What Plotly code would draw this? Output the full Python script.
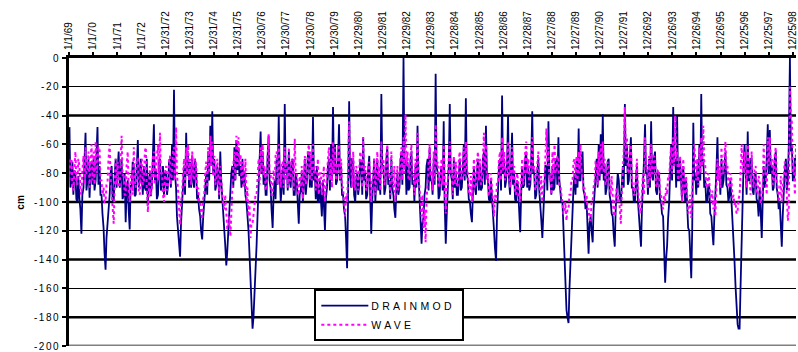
import pandas as pd
import plotly.graph_objects as go

# ---- tick labels on the (top) date axis ----
tick_labels = ["1/1/69", "1/1/70", "1/1/71", "1/1/72", "12/31/72", "12/31/73", "12/31/74",
               "12/31/75", "12/30/76", "12/30/77", "12/30/78", "12/30/79", "12/29/80",
               "12/29/81", "12/29/82", "12/29/83", "12/28/84", "12/28/85", "12/28/86",
               "12/28/87", "12/27/88", "12/27/89", "12/27/90", "12/27/91", "12/26/92",
               "12/26/93", "12/26/94", "12/26/95", "12/25/96", "12/25/97", "12/25/98"]

y_ticks = [0, -20, -40, -60, -80, -100, -120, -140, -160, -180, -200]

# ---- half-monthly water-table depth readings (cm), Jan 1969 .. Feb 1999 ----
drainmod = [
    -48,-90, -85,-72, -95,-78, -80,-98, -100,-82, -98,-105, -122,-95, -90,-75, -52,-92, -85,-70, -97,-80, -72,-88,        # 1969
    -70,-92, -85,-65, -48,-88, -75,-95, -95,-108, -118,-135, -147,-125, -115,-105, -95,-80, -75,-98, -100,-82, -70,-90,  # 1970
    -80,-65, -90,-75, -70,-98, -95,-80, -114,-92, -85,-105, -119,-88, -90,-72, -75,-96, -95,-78, -57,-90, -85,-70,       # 1971
    -85,-95, -75,-90, -92,-70, -102,-85, -80,-96, -88,-65, -46,-85, -78,-98, -95,-72, -70,-92, -88,-75, -96,-80,         # 1972
    -80,-95, -88,-72, -70,-90, -60,-85, -22,-80, -90,-110, -120,-132, -138,-115, -100,-85, -75,-95, -52,-80, -68,-90,    # 1973
    -72,-90, -68,-85, -90,-70, -78,-98, -95,-105, -110,-120, -126,-112, -100,-88, -80,-95, -65,-85, -47,-75, -37,-80,    # 1974
    -70,-92, -88,-75, -80,-98, -65,-85, -100,-110, -120,-130, -144,-135, -118,-105, -95,-80, -75,-90, -62,-85, -57,-78,  # 1975
    -62,-82, -75,-90, -70,-88, -80,-95, -100,-108, -120,-135, -150,-170, -188,-180, -165,-150, -130,-110, -88,-70, -51,-80,  # 1976
    -65,-88, -80,-95, -95,-70, -54,-85, -90,-105, -118,-95, -85,-98, -70,-88, -40,-80, -100,-90, -75,-95, -32,-80,       # 1977
    -75,-92, -65,-85, -90,-72, -70,-95, -95,-80, -85,-100, -115,-95, -92,-80, -100,-88, -70,-95, -85,-68, -65,-90,       # 1978
    -70,-90, -41,-85, -80,-98, -75,-100, -100,-85, -95,-110, -85,-105, -120,-98, -90,-75, -70,-92, -60,-85, -34,-80,     # 1979
    -60,-88, -85,-70, -46,-85, -75,-95, -95,-105, -110,-125, -146,-100, -30,-80, -90,-70, -70,-95, -100,-85, -80,-95,    # 1980
    -88,-72, -72,-95, -55,-85, -80,-98, -95,-78, -68,-95, -122,-100, -85,-70, -100,-88, -70,-92, -80,-95, -25,-75,       # 1981
    -75,-95, -90,-70, -62,-88, -85,-98, -70,-90, -95,-105, -111,-92, -80,-95, -90,-72, -65,-88, 0,-75, -70,-95,          # 1982
    -72,-92, -90,-70, -65,-88, -85,-100, -75,-90, -47,-80, -95,-110, -129,-115, -110,-95, -90,-75, -70,-92, -62,-85,     # 1983
    -85,-95, -70,-88, -11,-75, -80,-98, -95,-80, -75,-92, -44,-100, -129,-110, -90,-75, -32,-80, -85,-98, -70,-90,       # 1984
    -80,-95, -95,-75, -70,-92, -90,-78, -60,-85, -28,-80, -85,-98, -100,-108, -114,-95, -75,-90, -95,-80, -70,-92,       # 1985
    -75,-92, -90,-70, -65,-88, -47,-80, -85,-98, -100,-85, -95,-110, -120,-132, -141,-110, -90,-75, -70,-92, -26,-80,    # 1986
    -70,-90, -85,-72, -40,-85, -95,-80, -52,-88, -80,-98, -100,-85, -90,-105, -121,-95, -75,-90, -88,-70, -65,-90,       # 1987
    -75,-92, -88,-70, -37,-80, -80,-98, -95,-80, -70,-92, -100,-112, -125,-100, -90,-75, -75,-92, -44,-80, -85,-95,      # 1988
    -75,-92, -90,-70, -70,-88, -55,-85, -95,-100, -100,-120, -138,-160, -175,-180, -184,-160, -140,-120, -100,-90, -80,-95,  # 1989
    -70,-90, -49,-85, -85,-70, -65,-92, -95,-105, -100,-120, -136,-115, -110,-120, -128,-105, -90,-78, -70,-90, -60,-85, # 1990
    -53,-80, -39,-85, -75,-95, -90,-72, -70,-95, -100,-108, -110,-122, -131,-105, -95,-80, -85,-98, -100,-85, -75,-90,   # 1991
    -32,-75, -60,-88, -85,-70, -55,-90, -90,-100, -100,-85, -75,-98, -110,-122, -131,-105, -90,-72, -46,-80, -80,-95,    # 1992
    -70,-90, -44,-82, -85,-70, -65,-92, -95,-80, -80,-98, -100,-108, -110,-135, -156,-140, -130,-112, -100,-80, -60,-85, # 1993
    -34,-75, -70,-90, -40,-85, -85,-70, -95,-100, -75,-92, -100,-85, -110,-118, -120,-140, -153,-120, -45,-85, -80,-95,  # 1994
    -75,-90, -60,-85, -25,-75, -70,-90, -85,-100, -100,-88, -90,-108, -110,-120, -130,-110, -95,-80, -55,-85, -80,-95,   # 1995
    -70,-90, -85,-72, -65,-88, -90,-100, -95,-85, -100,-110, -120,-140, -159,-172, -185,-188, -188,-160, -120,-95, -72,-60,  # 1996
    -80,-95, -51,-85, -85,-70, -70,-92, -95,-82, -80,-98, -100,-110, -90,-115, -125,-100, -75,-90, -85,-70, -46,-80,     # 1997
    -50,-80, -75,-92, -90,-70, -65,-90, -95,-105, -100,-115, -131,-110, -90,-78, -70,-92, -85,-60, 0,-65, -60,-85,       # 1998
    -85,-70, -70,-88,                                                                                                  # 1999
]

wave = [
    -85,-70, -70,-90, -92,-75, -65,-85, -88,-70, -75,-92, -95,-78, -68,-88, -62,-80, -80,-65, -90,-72, -60,-85,          # 1969
    -65,-88, -58,-80, -75,-62, -62,-85, -85,-95, -90,-100, -100,-88, -85,-70, -60,-82, -95,-105, -115,-90, -70,-88,      # 1970
    -72,-90, -88,-68, -54,-82, -80,-95, -95,-75, -65,-90, -100,-85, -78,-95, -62,-85, -90,-70, -70,-92, -95,-75,         # 1971
    -70,-88, -85,-65, -62,-90, -107,-92, -75,-95, -90,-70, -65,-88, -82,-68, -60,-85, -52,-80, -80,-95, -100,-80,        # 1972
    -75,-92, -90,-70, -68,-88, -80,-65, -62,-85, -48,-80, -90,-105, -116,-100, -95,-80, -70,-90, -62,-82, -60,-85,       # 1973
    -70,-88, -65,-82, -85,-70, -75,-92, -90,-100, -100,-108, -112,-98, -95,-80, -72,-90, -62,-80, -54,-75, -58,-82,      # 1974
    -68,-88, -85,-70, -80,-95, -75,-88, -95,-102, -105,-95, -112,-118, -118,-110, -124,-105, -90,-75, -65,-85, -54,-75,  # 1975
    -55,-75, -67,-85, -72,-90, -85,-70, -100,-90, -110,-100, -125,-115, -115,-108, -105,-95, -95,-80, -70,-88, -62,-80,  # 1976
    -60,-82, -75,-92, -90,-70, -53,-80, -80,-95, -95,-78, -85,-68, -65,-88, -60,-80, -90,-72, -72,-90, -62,-85,          # 1977
    -72,-90, -62,-85, -85,-70, -75,-92, -56,-80, -80,-95, -95,-82, -90,-75, -98,-85, -68,-88, -82,-65, -60,-85,          # 1978
    -65,-85, -60,-80, -75,-92, -85,-70, -95,-80, -80,-95, -90,-75, -100,-88, -85,-70, -62,-85, -70,-90, -58,-80,         # 1979
    -62,-85, -80,-68, -60,-85, -70,-90, -90,-100, -110,-95, -100,-80, -44,-70, -75,-90, -65,-85, -92,-75, -78,-92,       # 1980
    -80,-65, -70,-90, -55,-80, -75,-92, -90,-75, -72,-90, -100,-85, -85,-70, -95,-80, -65,-85, -75,-92, -58,-80,         # 1981
    -70,-88, -85,-68, -60,-82, -80,-95, -65,-85, -90,-75, -100,-88, -75,-92, -85,-70, -62,-85, -55,-80, -39,-75,         # 1982
    -65,-85, -85,-68, -60,-82, -80,-95, -70,-88, -52,-80, -90,-100, -110,-95, -118,-105, -128,-100, -85,-70, -60,-82,    # 1983
    -78,-92, -65,-85, -46,-75, -72,-90, -90,-75, -70,-88, -60,-85, -108,-90, -85,-70, -58,-80, -80,-95, -68,-88,         # 1984
    -72,-90, -88,-70, -65,-85, -85,-70, -62,-82, -58,-78, -80,-95, -95,-82, -100,-85, -70,-90, -90,-72, -65,-85,         # 1985
    -70,-88, -85,-68, -52,-78, -60,-85, -80,-95, -95,-80, -90,-100, -110,-95, -100,-85, -85,-70, -65,-85, -55,-78,       # 1986
    -65,-85, -80,-68, -58,-82, -90,-75, -62,-85, -75,-92, -95,-80, -85,-98, -100,-85, -70,-88, -80,-65, -58,-80,         # 1987
    -70,-88, -82,-65, -55,-78, -75,-92, -90,-75, -65,-85, -95,-82, -100,-88, -85,-70, -49,-75, -62,-85, -80,-95,         # 1988
    -65,-85, -60,-80, -80,-68, -70,-88, -88,-95, -100,-108, -108,-100, -113,-105, -105,-95, -95,-85, -85,-72, -70,-88,   # 1989
    -68,-85, -65,-80, -60,-78, -80,-92, -90,-100, -95,-105, -105,-112, -113,-100, -100,-90, -85,-72, -72,-88, -65,-82,   # 1990
    -60,-78, -58,-80, -70,-88, -85,-72, -75,-90, -95,-82, -100,-108, -110,-95, -90,-100, -95,-105, -115,-95, -80,-65,    # 1991
    -34,-70, -55,-80, -80,-65, -60,-85, -88,-95, -95,-80, -70,-90, -100,-108, -105,-90, -80,-95, -55,-75, -75,-90,       # 1992
    -68,-85, -60,-80, -80,-68, -70,-88, -90,-78, -78,-95, -95,-102, -105,-95, -100,-90, -95,-82, -85,-70, -62,-80,       # 1993
    -55,-75, -40,-70, -65,-85, -80,-68, -90,-100, -70,-88, -95,-82, -100,-108, -105,-95, -111,-90, -75,-60, -70,-85,     # 1994
    -70,-88, -62,-80, -55,-75, -47,-72, -75,-90, -90,-80, -85,-98, -100,-92, -105,-98, -110,-95, -70,-85, -75,-90,       # 1995
    -62,-80, -80,-68, -58,-78, -75,-90, -90,-80, -85,-98, -95,-102, -100,-108, -106,-98, -95,-80, -60,-75, -80,-65,      # 1996
    -75,-90, -60,-80, -80,-95, -65,-85, -90,-78, -75,-92, -95,-82, -85,-100, -100,-88, -60,-80, -80,-95, -55,-75,        # 1997
    -55,-75, -70,-88, -85,-68, -62,-85, -90,-100, -95,-82, -100,-90, -85,-72, -80,-95, -113,-105, -20,-40, -45,-80,      # 1998
    -75,-95, -60,-85,                                                                                                  # 1999
]

dates = pd.date_range("1969-01-01", periods=len(drainmod), freq="SMS") + pd.Timedelta(days=7)
tick_vals = pd.to_datetime(tick_labels, format="%m/%d/%y")

FONT = "Liberation Sans, Arial, sans-serif"

fig = go.Figure()
fig.add_trace(go.Scatter(x=dates, y=drainmod, mode="lines", name="DRAINMOD",
                         line=dict(color="#000080", width=1.8)))
fig.add_trace(go.Scatter(x=dates, y=wave, mode="lines", name="WAVE",
                         line=dict(color="#FF00FF", width=2, dash="dot")))

x_start = tick_vals[0]
x_end = x_start + pd.Timedelta(days=10995)

shapes = []
for v in [-40, -100, -140, -180]:
    shapes.append(dict(type="line", xref="paper", x0=0, x1=1, yref="y", y0=v, y1=v,
                       line=dict(color="black", width=2.5), layer="below"))
shapes.append(dict(type="line", xref="paper", x0=0, x1=1, yref="y", y0=-200, y1=-200,
                   line=dict(color="#808080", width=3), layer="above"))

fig.update_layout(
    width=798, height=352,
    margin=dict(l=69, r=0, t=58, b=5),
    paper_bgcolor="white", plot_bgcolor="white",
    font=dict(family=FONT, color="black", size=10),
    showlegend=True,
    legend=dict(x=(315 - 69) / 729, y=(347 - 290) / 289, xanchor="left", yanchor="top",
                bgcolor="white", bordercolor="black", borderwidth=2,
                font=dict(family=FONT, size=10.5, color="black"),
                tracegroupgap=0),
    xaxis=dict(type="date", side="top", range=[x_start, x_end],
               tickvals=tick_vals, ticktext=tick_labels, tickangle=-90,
               ticks="outside", ticklen=3, tickwidth=2, tickcolor="black",
               ticklabeloverflow="allow",
               showgrid=False, zeroline=False,
               showline=True, linecolor="black", linewidth=3,
               tickfont=dict(family=FONT, size=10)),
    yaxis=dict(range=[-200, 0], tickvals=y_ticks, ticktext=[str(v) for v in y_ticks],
               ticks="outside", ticklen=4, tickwidth=2, tickcolor="black",
               ticklabeloverflow="allow",
               showgrid=True, gridcolor="black", gridwidth=1, zeroline=False,
               showline=True, linecolor="black", linewidth=3,
               tickfont=dict(family=FONT, size=10)),
    shapes=shapes,
    annotations=[dict(text="<b>cm</b>", xref="paper", yref="paper", x=(12 - 69) / 729, y=0.5,
                      textangle=-90, showarrow=False, font=dict(family=FONT, size=10))],
)

post = """
document.body.style.margin = '0';
document.documentElement.style.overflow = 'hidden';
var gd = document.getElementById('{plot_id}');
function sp(){
  gd.querySelectorAll('.legendtext').forEach(function(t){
    t.style.letterSpacing='3.3px'; t.setAttribute('x', 55);
  });
  gd.querySelectorAll('.legendlines path').forEach(function(p){p.setAttribute('d', 'M5,0h47');});
  gd.querySelectorAll('.ytick text').forEach(function(t){t.style.letterSpacing='1.5px';});
  gd.querySelectorAll('.legend rect.bg').forEach(function(r){r.setAttribute('width', 148);});
  document.querySelectorAll('clipPath[id^="legend"] rect').forEach(function(r){r.setAttribute('width', 148);});
}
sp();
gd.on('plotly_afterplot', sp);
"""

fig.write_html("out.html", post_script=post, config={"displayModeBar": False})
